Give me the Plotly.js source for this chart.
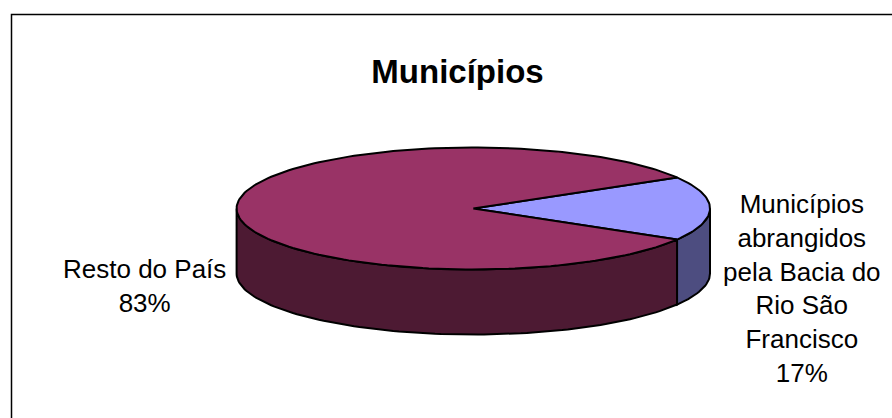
<!DOCTYPE html>
<html>
<head>
<meta charset="utf-8">
<script src="https://cdn.plot.ly/plotly-3.0.1.min.js"></script>
<style>html,body{margin:0;padding:0;background:#fff;}#chart{width:892px;height:418px;}</style>
</head>
<body>
<div id="chart"></div>
<script>
// ---- data ----
const chartTitle = "Municípios";
const categories = ["Municípios abrangidos pela Bacia do Rio São Francisco", "Resto do País"];
const values = [17, 83];
const labelLines = [
  ["Municípios", "abrangidos", "pela Bacia do", "Rio São", "Francisco"],
  ["Resto do País"]
];

// ---- styles / layout constants ----
const W = 892, H = 418;
const topColors = ["#9999FF", "#993366"];
const sideColors = ["#4D4D80", "#4D1A33"];
const cx = 473.3, cy = 208.5, rx = 236.7, ry = 61, depth = 65;
const firstSliceCenterDeg = 0;
const labelPos = [{x: 802, y: 288}, {x: 144, y: 286}];
const FONT = "Liberation Sans, Arial, sans-serif";

const total = values.reduce((a, b) => a + b, 0);
function pt(t, dz) {
  const r = t * Math.PI / 180;
  return [cx + rx * Math.cos(r), cy - ry * Math.sin(r) + dz];
}
function arc(a0, a1, dz) {
  const n = Math.max(2, Math.ceil(Math.abs(a1 - a0) / 1.5));
  const out = [];
  for (let k = 0; k <= n; k++) out.push(pt(a0 + (a1 - a0) * k / n, dz));
  return out;
}

const slices = [];
let start = firstSliceCenterDeg - values[0] / total * 180;
values.forEach((v, i) => {
  const a0 = start, a1 = start + v / total * 360;
  slices.push({a0, a1, i});
  start = a1;
});

const traces = [];
const line = {color: "#000000", width: 2};
// side walls (front half only)
slices.forEach(s => {
  [-360, 0, 360].forEach(k => {
    const lo = Math.max(s.a0, 180 + k), hi = Math.min(s.a1, 360 + k);
    if (hi > lo) {
      const topArc = arc(lo, hi, 0);
      const botArc = arc(hi, lo, depth);
      const pts = topArc.concat(botArc);
      pts.push(topArc[0]);
      traces.push({
        type: "scatter", mode: "lines", fill: "toself",
        x: pts.map(p => p[0]), y: pts.map(p => p[1]),
        fillcolor: sideColors[s.i], line: line,
        hoverinfo: "skip", showlegend: false
      });
    }
  });
});
// top faces
slices.forEach(s => {
  const pts = [[cx, cy]].concat(arc(s.a0, s.a1, 0));
  pts.push([cx, cy]);
  traces.push({
    type: "scatter", mode: "lines", fill: "toself",
    x: pts.map(p => p[0]), y: pts.map(p => p[1]),
    fillcolor: topColors[s.i], line: line,
    hoverinfo: "skip", showlegend: false, name: categories[s.i]
  });
});

const annotations = values.map((v, i) => ({
  xref: "x", yref: "y", x: labelPos[i].x, y: labelPos[i].y,
  xanchor: "center", yanchor: "middle", showarrow: false, align: "center",
  text: labelLines[i].concat([Math.round(v / total * 100) + "%"]).join("<br>"),
  font: {family: FONT, size: 26, color: "#000000"}
}));

const layout = {
  width: W, height: H,
  margin: {l: 0, r: 0, t: 0, b: 0},
  paper_bgcolor: "#ffffff", plot_bgcolor: "#ffffff",
  title: {
    text: chartTitle, x: 457.5 / W, xref: "paper", xanchor: "center",
    y: 1 - 71 / H, yref: "paper", yanchor: "middle",
    font: {family: FONT, size: 33, color: "#000000", weight: 700}
  },
  xaxis: {range: [0, W], visible: false, fixedrange: true},
  yaxis: {range: [H, 0], visible: false, fixedrange: true},
  shapes: [{
    type: "rect", xref: "x", yref: "y", x0: 11.5, y0: 14.5, x1: W + 20, y1: H + 20,
    line: {color: "#000000", width: 1.5}, fillcolor: "rgba(0,0,0,0)", layer: "below"
  }],
  annotations: annotations,
  showlegend: false
};

Plotly.newPlot("chart", traces, layout, {staticPlot: true, displayModeBar: false});
</script>
</body>
</html>
